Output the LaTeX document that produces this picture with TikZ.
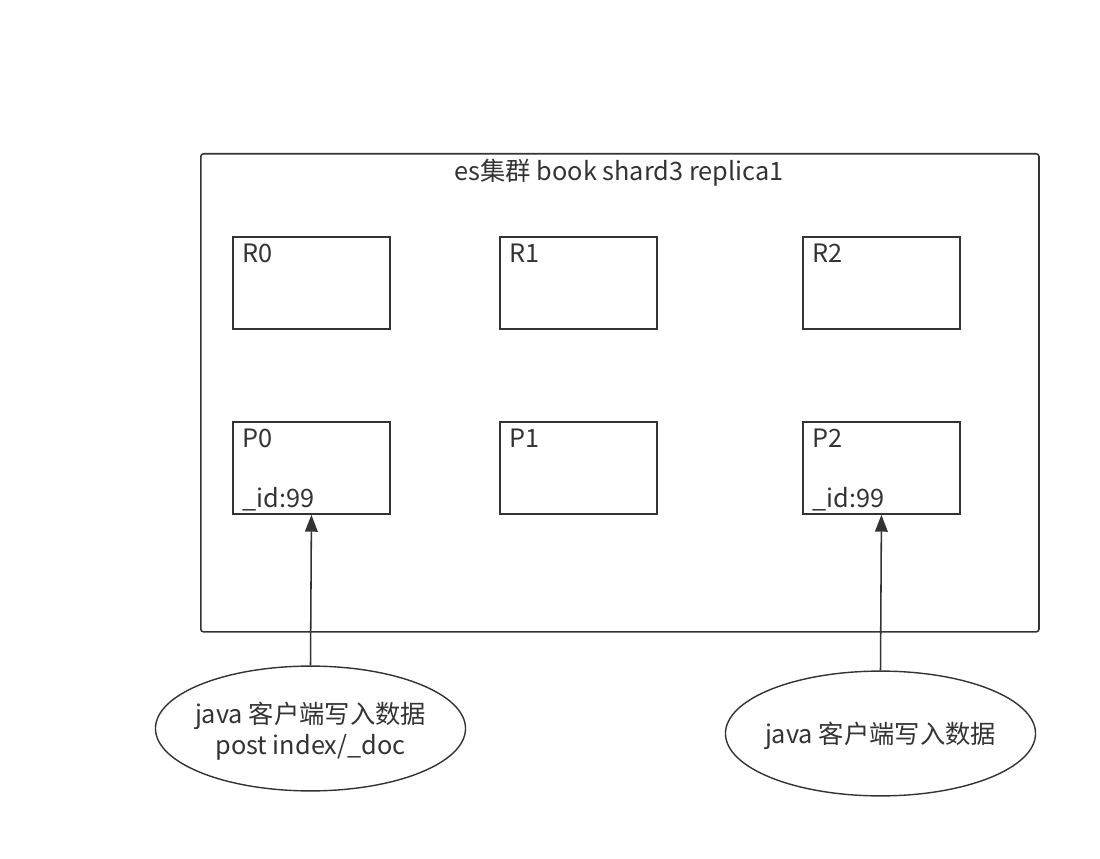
\documentclass[tikz,border=0pt]{standalone}
\usepackage{fontspec}
\setmainfont{Noto Sans CJK SC}
\usetikzlibrary{shapes.geometric,arrows.meta}
\definecolor{ink}{HTML}{333333}
\tikzstyle{shard} = [rectangle, draw=ink, line width=1.3pt, minimum width=3.925cm, minimum height=2.3cm, inner sep=0pt]
\tikzstyle{client} = [ellipse, draw=ink, line width=1pt, minimum width=7.75cm, minimum height=3.12cm, inner sep=0pt]
\tikzstyle{tag} = [text=ink, font=\fontsize{18}{22}\selectfont, inner sep=0pt, align=center]
\tikzstyle{line} = [draw=ink, line width=1.1pt, -{Triangle[length=12pt,width=9pt]}]

\begin{document}
\begin{tikzpicture}[x=0.025cm, y=-0.025cm]
	\useasboundingbox (0,0) rectangle (1100,859);

		\node [draw=ink, line width=1.1pt, rounded corners=2pt, minimum width=20.95cm, minimum height=11.95cm, anchor=north west] (cluster) at (200,153) {};
		\node [tag] (title) at (619,173) {es集群 book shard3 replica1};

		\node [shard, anchor=north west] (R0) at (232,236) {};
		\node [shard, anchor=north west] (R1) at (499,236) {};
		\node [shard, anchor=north west] (R2) at (802,236) {};
		\node [shard, anchor=north west] (P0) at (232,421) {};
		\node [shard, anchor=north west] (P1) at (499,421) {};
		\node [shard, anchor=north west] (P2) at (802,421) {};

		\node [tag, anchor=west] (R0name) at (242,253) {R0};
		\node [tag, anchor=west] (R1name) at (509,253) {R1};
		\node [tag, anchor=west] (R2name) at (812,253) {R2};
		\node [tag, anchor=west] (P0name) at (242,438) {P0};
		\node [tag, anchor=west] (P1name) at (509,438) {P1};
		\node [tag, anchor=west] (P2name) at (812,438) {P2};
		\node [tag, anchor=west] (P0doc) at (242,499) {\_id:99};
		\node [tag, anchor=west] (P2doc) at (812,499) {\_id:99};

		\node [client] (writer) at (310.5,728.5) {};
		\node [tag, yshift=-0.07cm] (writertext) at (writer) {java 客户端写入数据\\post index/\_doc};
		\node [client] (writer2) at (880.5,733.5) {};
		\node [tag, yshift=-0.05cm] (writer2text) at (writer2) {java 客户端写入数据};

		\path [line] (writer.north) -- (P0.south);
		\path [line] (writer2.north) -- (P2.south);
	\end{tikzpicture}
\end{document}
